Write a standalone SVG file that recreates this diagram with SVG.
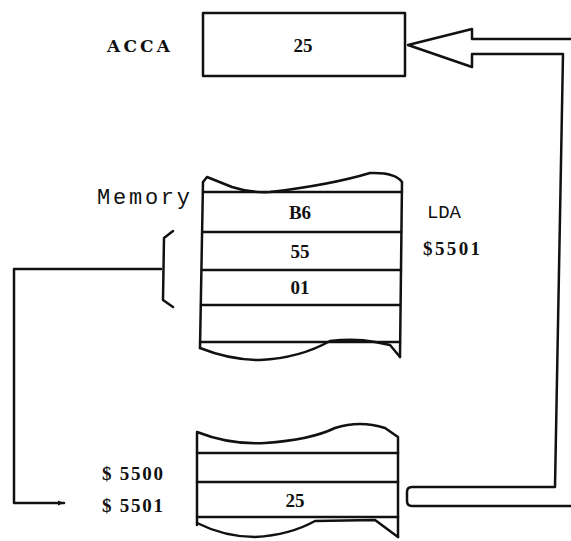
<svg xmlns="http://www.w3.org/2000/svg" width="571" height="541" viewBox="0 0 571 541">
<style>
.s{fill:none;stroke:#111;stroke-width:2.5;stroke-linejoin:round;stroke-linecap:round}
.w{fill:#fff;stroke:#111;stroke-width:2.5;stroke-linejoin:round}
.n{font-family:"Liberation Serif","DejaVu Serif",serif;font-weight:bold;font-size:19px;fill:#111;text-anchor:middle}
.l{font-family:"Liberation Serif","DejaVu Serif",serif;font-weight:bold;font-size:19px;fill:#111}
</style>
<defs>
<marker id="ah" viewBox="0 0 10 10" refX="10" refY="5" markerWidth="10" markerHeight="6" orient="auto" markerUnits="userSpaceOnUse">
<path d="M0,1 L10,5 L0,9 Z" fill="#111"/>
</marker>
</defs>
<rect width="571" height="541" fill="#fff"/>

<g id="connectors">
  <path class="s" d="M571,39 L472,39 L472,29 L408,45 L472,67 L472,54 L563,54 L555,487 L412,487 Q407,487 407,492 L407,501 Q407,506 412,506 L571,506"/>
  <path class="s" d="M161,269 L14,269 L14,503 L64,503" marker-end="url(#ah)"/>
</g>

<g id="acca">
  <text x="107" y="52" font-family="'DejaVu Serif','Liberation Serif',serif" font-weight="bold" font-size="17" textLength="63" fill="#111">ACCA</text>
  <rect class="w" x="203" y="13" width="202" height="63"/>
  <text class="n" x="303" y="52">25</text>
</g>

<g id="memory">
  <text x="97" y="204" font-family="'Liberation Mono','DejaVu Sans Mono',monospace" font-size="22" textLength="93" fill="#111">Memory</text>
  <path class="s" d="M200,348 L203,182 L207,177 L232,187 Q250,193 270,192 Q330,185 370,173 Q395,172 402,182 L400,357"/>
  <path class="s" d="M203,192 L402,192 M203,232 L401,232 M202,270 L401,270 M201,305 L400,305 M200,342 L400,342"/>
  <path class="s" d="M200,348 Q230,360 260,360 Q300,358 330,341 Q355,338 375,342 L390,345 L400,357"/>
  <text class="n" x="300" y="219">B6</text>
  <text class="n" x="300" y="258">55</text>
  <text class="n" x="300" y="294">01</text>
  <path class="s" d="M173,231 L164,238 L163,300 L173,307"/>
  <text x="427" y="218" font-family="'Liberation Mono','DejaVu Sans Mono',monospace" font-size="19" textLength="34" fill="#111">LDA</text>
  <text class="l" x="423" y="255" textLength="57">$5501</text>
</g>

<g id="target">
  <path class="s" d="M197,525 L197,432 Q230,445 265,443 Q310,440 335,428 Q360,420 385,428 L398,437 L398,537"/>
  <path class="s" d="M197,453 L398,453 M197,482 L398,482 M197,517 L398,517"/>
  <path class="s" d="M197,523 Q225,537 255,537 Q290,535 315,521 L375,520 L398,537"/>
  <text class="n" x="295" y="507">25</text>
  <text class="l" x="102" y="480" textLength="61">$ 5500</text>
  <text class="l" x="102" y="512" textLength="61">$ 5501</text>
</g>
</svg>
